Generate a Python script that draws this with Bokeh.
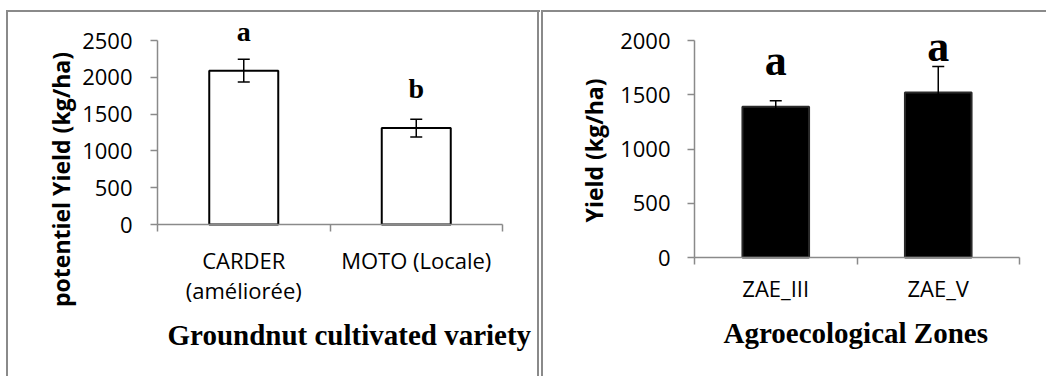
from bokeh.plotting import figure
from bokeh.models import (ColumnDataSource, Range1d, SingleIntervalTicker, FixedTicker,
                          Whisker, TeeHead, LabelSet, Label)
from bokeh.layouts import row
from bokeh.embed import file_html
from bokeh.resources import INLINE

# ---- data ----
left_categories = ["CARDER\n(améliorée)", "MOTO (Locale)"]
left_yield = [2090, 1310]
left_err = [155, 120]
left_letters = ["a", "b"]

right_categories = ["ZAE_III", "ZAE_V"]
right_yield = [1390, 1520]
right_err = [55, 240]
right_letters = ["a", "a"]

GREY = "#8a8a8a"
SANS = "Open Sans"
SERIF = "Liberation Serif"
H = 376


def panel(cats, vals, errs, letters, ymax, width,
          ax_left, ax_right, ax_top, ax_zero, fill, bar_line,
          ylab, ylab_xy, xlab, xlab_xy, letter_size, letter_off,
          bar_w, tick_standoff, cat_standoff, styles):
    """Frame covers the whole canvas; axes are pinned with fixed_location so
    nothing is clipped.  ax_* are pixel positions of the axis lines."""
    n = len(cats)
    xs = [i + 0.5 for i in range(n)]
    xpp = n / (ax_right - ax_left)
    ypp = ymax / (ax_zero - ax_top)
    x_range = Range1d(-ax_left * xpp, n + (width - ax_right) * xpp)
    y_range = Range1d(-(H - ax_zero) * ypp, ax_zero * ypp)

    src = ColumnDataSource(dict(
        x=xs, top=vals,
        upper=[v + e for v, e in zip(vals, errs)],
        lower=[v - e for v, e in zip(vals, errs)],
        letter=letters))
    p = figure(width=width, height=H, output_backend="svg", toolbar_location=None,
               x_range=x_range, y_range=y_range,
               min_border=0, min_border_left=0, min_border_right=0,
               min_border_top=0, min_border_bottom=0)
    p.styles = styles
    p.border_fill_color = None
    p.background_fill_color = None
    p.outline_line_color = None
    p.grid.visible = False

    p.vbar(x="x", top="top", width=bar_w, bottom=0, source=src,
           fill_color=fill, line_color=bar_line, line_width=2)

    w = Whisker(base="x", upper="upper", lower="lower", source=src,
                line_color="black", line_width=1.5, level="overlay",
                upper_head=TeeHead(size=12, line_color="black", line_width=1.5),
                lower_head=TeeHead(size=12, line_color="black", line_width=1.5))
    p.add_layout(w)

    ls = LabelSet(x="x", y="top", text="letter", source=src, y_offset=letter_off,
                  text_align="center", text_baseline="alphabetic",
                  text_font=SERIF, text_font_style="bold",
                  text_font_size=f"{letter_size}px", text_color="black")
    p.add_layout(ls)

    ya = p.yaxis[0]
    ya.fixed_location = 0
    ya.bounds = (0, ymax)
    ya.ticker = SingleIntervalTicker(interval=500)
    ya.axis_line_color = GREY
    ya.axis_line_width = 1.5
    ya.major_tick_line_color = GREY
    ya.major_tick_line_width = 1.5
    ya.major_tick_out = 7
    ya.major_tick_in = 0
    ya.minor_tick_line_color = None
    ya.major_label_standoff = tick_standoff
    ya.major_label_text_font = SANS
    ya.major_label_text_font_size = "22px"
    ya.major_label_text_color = "black"

    xa = p.xaxis[0]
    xa.fixed_location = 0
    xa.bounds = (0, n)
    xa.ticker = FixedTicker(ticks=xs, minor_ticks=list(range(n + 1)))
    xa.major_label_overrides = {x: c for x, c in zip(xs, cats)}
    xa.axis_line_color = GREY
    xa.axis_line_width = 1.5
    xa.major_tick_line_color = None
    xa.major_tick_out = 0
    xa.major_tick_in = 0
    xa.minor_tick_line_color = GREY
    xa.minor_tick_line_width = 1.5
    xa.minor_tick_out = 7
    xa.minor_tick_in = 0
    xa.major_label_standoff = cat_standoff
    xa.major_label_text_font = SANS
    xa.major_label_text_font_size = "22px"
    xa.major_label_text_color = "black"
    xa.major_label_text_line_height = 1.0

    # axis titles, placed in pixels (x from left, y from top of the canvas)
    p.add_layout(Label(x=ylab_xy[0], y=H - ylab_xy[1], x_units="screen", y_units="screen",
                       text=ylab, angle=90, angle_units="deg",
                       text_align="center", text_baseline="middle",
                       text_font=SANS, text_font_style="bold", text_font_size="23px",
                       text_color="black"))
    p.add_layout(Label(x=xlab_xy[0], y=H - xlab_xy[1], x_units="screen", y_units="screen",
                       text=xlab, text_align="left", text_baseline="alphabetic",
                       text_font=SERIF, text_font_style="bold", text_font_size="29px",
                       text_color="black"))
    return p


line = f"linear-gradient({GREY},{GREY})"
left_styles = {"background": (
    f"{line} 6px 10px / 100% 2px no-repeat, "
    f"{line} 6px 10px / 2px 100% no-repeat, "
    f"{line} 537px 10px / 2px 100% no-repeat")}
right_styles = {"background": (
    f"{line} 1px 10px / 100% 2px no-repeat, "
    f"{line} 1px 10px / 2px 100% no-repeat")}

p1 = panel(left_categories, left_yield, left_err, left_letters, 2500, 540,
           157, 502, 40, 224, "white", "black",
           "potentiel  Yield (kg/ha)", (60, 176),
           "Groundnut cultivated variety", (167, 334),
           28, 30, 0.4, 18, 13, left_styles)
p2 = panel(right_categories, right_yield, right_err, right_letters, 2000, 506,
           154, 479, 40, 257, "black", "#2a2a2a",
           "Yield (kg/ha)", (53, 150),
           "Agroecological  Zones", (183, 332),
           44, 32, 0.41, 17, 8, right_styles)

layout = row(p1, p2)
open("out.html", "w").write(file_html(layout, INLINE))
